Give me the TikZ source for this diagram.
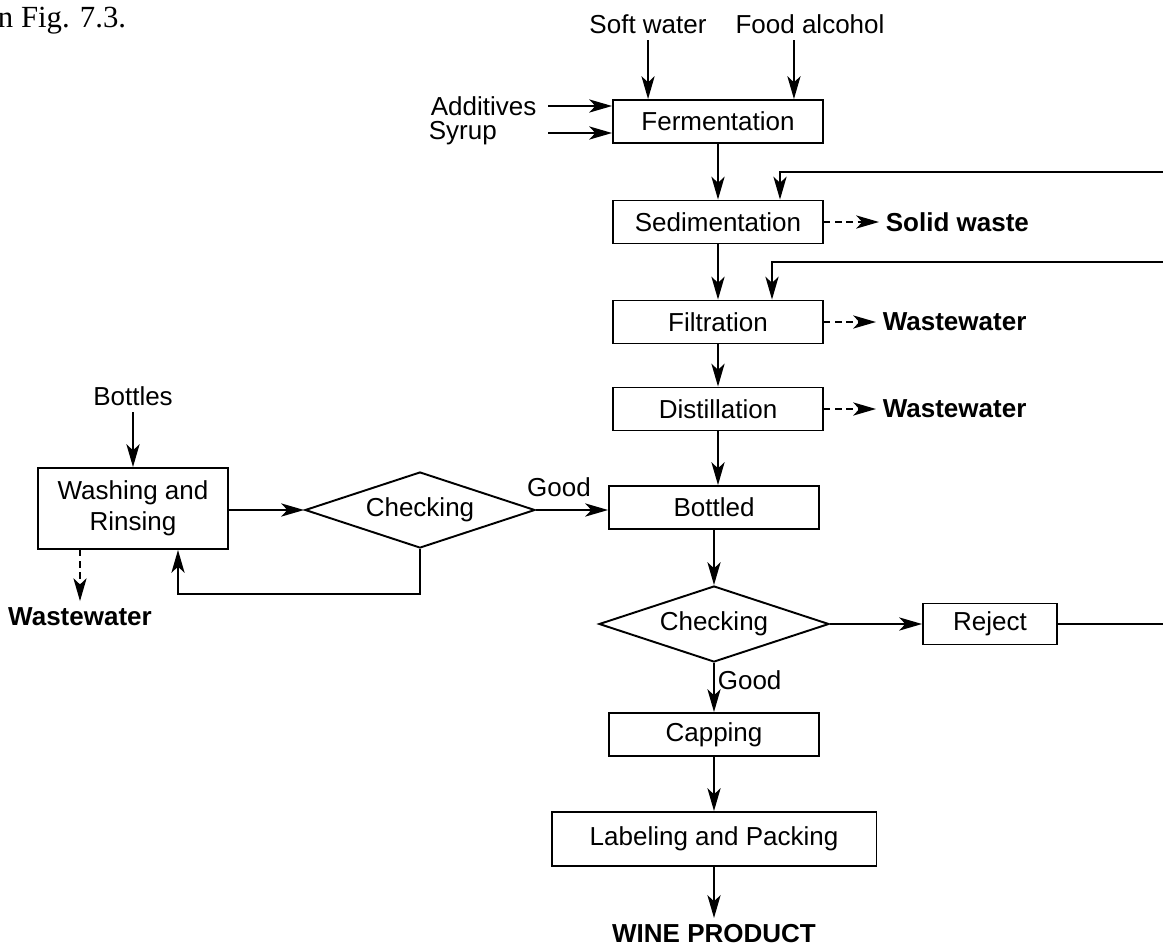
\documentclass[tikz,border=0pt]{standalone}
\usepackage{fontspec}
\setmainfont{Liberation Sans}
\newfontfamily\bodyserif{Liberation Serif}
\usetikzlibrary{arrows.meta,shapes.geometric,calc}

\begin{document}
\begin{tikzpicture}[x=0.02cm, y=-0.02cm, line width=1.1pt,
    every node/.style={font=\fontsize{14.8}{17.5}\selectfont},
    box/.style={draw, rectangle, minimum width=4.2cm, minimum height=0.86cm},
    check/.style={draw, diamond, aspect=3, inner sep=0pt, minimum width=4.6cm, minimum height=1.52cm},
    arr/.style={-{Stealth[length=13pt, width=7.5pt, inset=3.5pt]}},
    dasharr/.style={arr, dash pattern=on 3.6pt off 2.8pt},
    waste/.style={font=\fontsize{14.8}{17.5}\selectfont\bfseries}]
  \useasboundingbox (0,0) rectangle (1163,947);
  \node[anchor=base west, inner sep=0pt, font=\fontsize{17.5}{20}\selectfont\bodyserif] (figref) at (-3,27) {n Fig. 7.3.};

  % process line
  \node[box] (ferm) at (718,121.5) {Fermentation};
  \node[box] (sed) at (718,222) {Sedimentation};
  \node[box] (filt) at (718,322) {Filtration};
  \node[box] (dist) at (718,409) {Distillation};
  \node[box] (bott) at (714,507.5) {Bottled};
  \node[check] (chk2) at (714,624) {Checking};
  \node[box, minimum width=2.68cm, minimum height=0.82cm] (rej) at (990,624) {Reject};
  \node[box] (cap) at (714,734.5) {Capping};
  \node[box, minimum width=6.5cm, minimum height=1.08cm] (lab) at (714,839) {Labeling and Packing};
  \node[waste] (wine) at (714,934) {WINE PRODUCT};

  % raw materials
  \node (sw) at (648,24) {Soft water};
  \node (fa) at (810,24) {Food alcohol};
  \node[anchor=west] (add) at (424,106) {Additives};
  \node[anchor=west] (syr) at (422,133) {Syrup};
  \coordinate (swin) at ($(ferm.north west)+(36,0)$);
  \coordinate (fain) at ($(ferm.north east)+(-30,0)$);
  \draw[arr] (swin |- sw.south) -- (swin);
  \draw[arr] (fain |- fa.south) -- (fain);
  \draw[arr, shorten <=3pt] (add.east) -- (add.east -| ferm.west);
  \draw[arr, shorten <=3pt] (syr.east -| add.east) -- (syr.east -| ferm.west);

  % main flow
  \draw[arr] (ferm.south) -- (sed.north);
  \draw[arr] (sed.south) -- (filt.north);
  \draw[arr] (filt.south) -- (dist.north);
  \draw[arr] (dist.south) -- (dist.south |- bott.north);
  \draw[arr] (bott.south) -- (chk2.north);
  \draw[arr] (chk2.south) -- (cap.north);
  \draw[arr] (cap.south) -- (lab.north);
  \draw[arr] (lab.south) -- (wine.north);
  \node[anchor=west] (good2) at (711,680) {Good};

  % wastes
  \node[waste, anchor=west] (solid) at (879,222) {Solid waste};
  \node[waste, anchor=west] (ww1) at (876,322) {Wastewater};
  \node[waste, anchor=west] (ww2) at (876,409) {Wastewater};
  \draw[dasharr] (sed.east) -- (solid.west);
  \draw[dasharr] (filt.east) -- (ww1.west);
  \draw[dasharr] (dist.east) -- (ww2.west);

  % rejects go back to sedimentation / filtration
  \coordinate (rejout) at (1163,624);
  \coordinate (fbsed) at (1163,172);
  \coordinate (fbfilt) at (1163,262);
  \coordinate (sedin) at ($(sed.north)+(62,0)$);
  \coordinate (filtin) at ($(filt.north)+(54,0)$);
  \draw[arr] (chk2.east) -- (rej.west);
  \draw (rej.east) -- (rejout);
  \draw[arr] (fbsed) -| (sedin);
  \draw[arr] (fbfilt) -| (filtin);

  % bottle line
  \node (btl) at (133,396) {Bottles};
  \node[box, minimum width=3.8cm, minimum height=1.62cm, align=center] (wash) at (133,508.5) {Washing and\\Rinsing};
  \node[check] (chk1) at (420,510) {Checking};
  \node[waste] (ww3) at (80,617) {Wastewater};
  \node (good1) at (559,487) {Good};
  \coordinate (loop) at ($(chk1.south)+(0,45)$);
  \coordinate (washret) at ($(wash.south)+(45,0)$);
  \draw[arr] (btl.south) -- (wash.north);
  \draw[arr] (wash.east |- chk1.west) -- (chk1.west);
  \draw[arr] (chk1.east) -- (bott.west |- chk1.east);
  \draw[arr] (chk1.south) -- (loop) -| (washret);
  \draw[dasharr] (wash.south -| ww3.north) -- (ww3.north);
\end{tikzpicture}
\end{document}
